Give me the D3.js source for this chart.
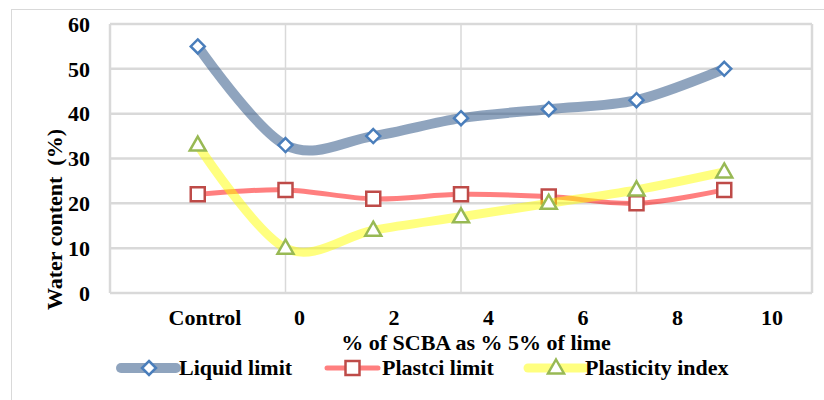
<!DOCTYPE html>
<html><head><meta charset="utf-8">
<script src="https://cdn.jsdelivr.net/npm/d3@7"></script>
<style>
html,body{margin:0;padding:0;background:#fff;}
</style></head>
<body>
<svg id="chart" width="824" height="400"></svg>
<script>
const categories = ["Control","0","2","4","6","8","10"];
const liquidLimit = [55,33,35,39,41,43,50];
const plasticLimit = [22,23,21,22,21.5,20,23];
const plasticityIndex = [33,10,14,17,20,23,27];
const yTicks = [0,10,20,30,40,50,60];
const seriesNames = ["Liquid limit","Plastci limit","Plasticity index"];
const xTitle = "% of SCBA as % 5% of lime";
const yTitle = "Water content  (%)";

const svg = d3.select("#chart");
const L=110, R=812, T=24, B=293;
const FF = "'Liberation Serif', 'Times New Roman', serif";

svg.append("rect").attr("x",11.5).attr("y",9.5).attr("width",830).attr("height",400)
  .attr("fill","none").attr("stroke","#d9d9d9").attr("stroke-width",1);

const y = d3.scaleLinear().domain([0,60]).range([B,T]);
const xi = d3.scaleLinear().domain([-1,7]).range([L,R]);
const xl = d3.scalePoint().domain(categories).range([205,772]);

const g = svg.append("g");
g.selectAll("line.vg").data([1,3,5]).join("line")
  .attr("x1",d=>xi(d)).attr("x2",d=>xi(d)).attr("y1",T).attr("y2",B)
  .attr("stroke","#d9d9d9").attr("stroke-width",1.5);
g.selectAll("line.hg").data(yTicks).join("line")
  .attr("x1",L).attr("x2",R).attr("y1",d=>y(d)).attr("y2",d=>y(d))
  .attr("stroke","#d9d9d9").attr("stroke-width",2.5);
g.selectAll("line.vb").data([-1,7]).join("line")
  .attr("x1",d=>xi(d)).attr("x2",d=>xi(d)).attr("y1",T).attr("y2",B)
  .attr("stroke","#d9d9d9").attr("stroke-width",2.5);

function txt(sel){ return sel.attr("font-family",FF).attr("font-weight","bold").attr("font-size",22).attr("fill","#000"); }

txt(svg.selectAll("text.yt").data(yTicks).join("text"))
  .attr("x",90).attr("y",d=>y(d)).attr("dy","0.35em")
  .attr("text-anchor","end").text(d=>d);

txt(svg.selectAll("text.xt").data(categories).join("text"))
  .attr("x",d=>xl(d)).attr("y",325).attr("text-anchor","middle").text(d=>d);

txt(svg.append("text")).attr("x",476).attr("y",350).attr("text-anchor","middle").text(xTitle);
txt(svg.append("text")).attr("transform","translate(62,219.5) rotate(-90)")
  .attr("text-anchor","middle").style("white-space","pre").text(yTitle);

const line = d3.line().x((d,i)=>xi(i)).y(d=>y(d)).curve(d3.curveCardinal.tension(0));

const diamond = "M0,-7L7,0L0,7L-7,0Z";
const square = "M-7,-7H7V7H-7Z";
const triangle = "M0,-8.5L8,5.5H-8Z";

const series = [
  {vals:liquidLimit, color:"#1F497D", w:10, mk:diamond, ms:"#4A7EBB"},
  {vals:plasticLimit, color:"#FF0000", w:5, mk:square, ms:"#BE4B48"},
  {vals:plasticityIndex, color:"#FFFF00", w:9, mk:triangle, ms:"#98B954"}
];

series.forEach(s=>{
  const sg = svg.append("g");
  sg.append("path").attr("d",line(s.vals)).attr("fill","none")
    .attr("stroke",s.color).attr("stroke-opacity",0.5).attr("stroke-width",s.w)
    .attr("stroke-linecap","round").attr("stroke-linejoin","round");
  sg.selectAll("path.m").data(s.vals).join("path")
    .attr("transform",(d,i)=>`translate(${xi(i)},${y(d)})`)
    .attr("d",s.mk).attr("fill","#fff").attr("stroke",s.ms).attr("stroke-width",2.5);
});

const legX = [[121,176,149,179],[327,378,352.5,382],[528,584,556,585]];
series.forEach((s,i)=>{
  const [x1,x2,xm,xt] = legX[i];
  const ly = 368;
  svg.append("line").attr("x1",x1).attr("x2",x2).attr("y1",ly).attr("y2",ly)
    .attr("stroke",s.color).attr("stroke-opacity",0.5).attr("stroke-width",s.w)
    .attr("stroke-linecap","round");
  svg.append("path").attr("transform",`translate(${xm},${ly})`).attr("d",s.mk)
    .attr("fill","#fff").attr("stroke",s.ms).attr("stroke-width",2.5);
  txt(svg.append("text")).attr("x",xt).attr("y",375).text(seriesNames[i]);
});
</script>
</body></html>
